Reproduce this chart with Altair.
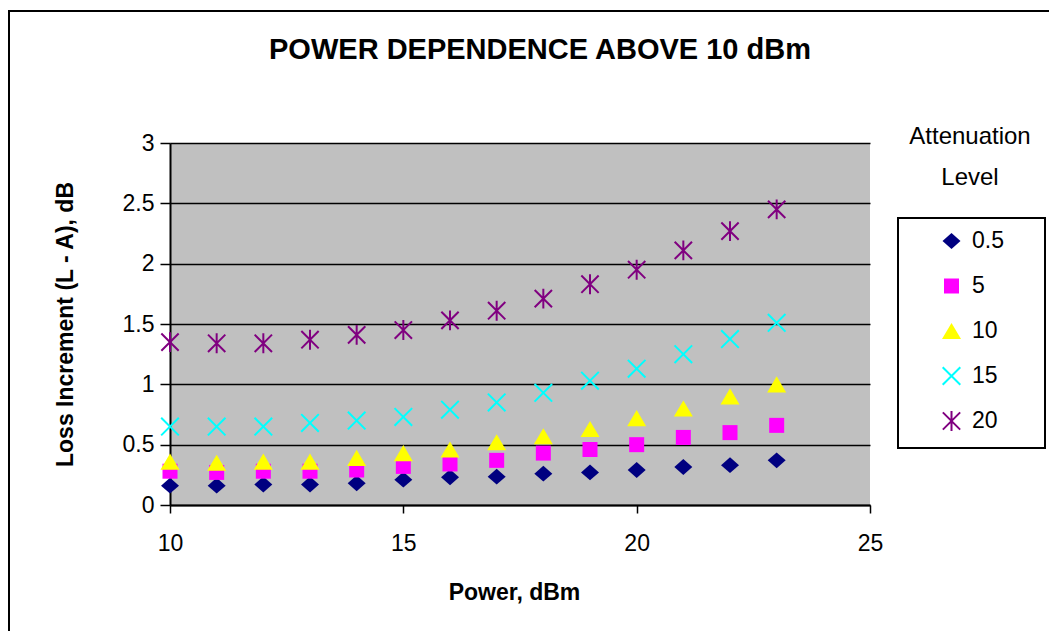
import altair as alt
import pandas as pd

power = list(range(10, 24))
att_levels = ["0.5", "5", "10", "15", "20"]
loss_05 = [0.16, 0.16, 0.17, 0.17, 0.18, 0.21, 0.23, 0.235, 0.26, 0.27, 0.29, 0.315, 0.33, 0.37]
loss_5 = [0.28, 0.27, 0.28, 0.28, 0.29, 0.32, 0.34, 0.37, 0.43, 0.46, 0.50, 0.56, 0.60, 0.66]
loss_10 = [0.36, 0.35, 0.36, 0.36, 0.39, 0.43, 0.46, 0.52, 0.57, 0.63, 0.72, 0.80, 0.90, 1.00]
loss_15 = [0.65, 0.65, 0.65, 0.68, 0.70, 0.73, 0.79, 0.85, 0.93, 1.03, 1.13, 1.25, 1.375, 1.51]
loss_20 = [1.35, 1.34, 1.34, 1.37, 1.41, 1.45, 1.53, 1.61, 1.71, 1.83, 1.95, 2.11, 2.27, 2.45]

x_ticks = [10, 15, 20, 25]
y_ticks = [0, 0.5, 1, 1.5, 2, 2.5, 3]

rows = []
for lvl, vals in zip(att_levels, [loss_05, loss_5, loss_10, loss_15, loss_20]):
    for p, v in zip(power, vals):
        rows.append({"Power": p, "Loss": v, "Level": lvl})
df = pd.DataFrame(rows)

FONT = "Liberation Sans"
W, H = 700, 362

shapes = ["M0,-0.88L1,0L0,0.88L-1,0Z",
          "M-1,-1L1,-1L1,1L-1,1Z",
          "M0,-0.85L1,0.85L-1,0.85Z",
          "M-1,-1L1,1M-1,1L1,-1",
          "M-1,-1L1,1M-1,1L1,-1M0,-1.15L0,1.15"]
fills = ["#000080", "#FF00FF", "#FFFF00", "transparent", "transparent"]
strokes = ["transparent", "transparent", "transparent", "#00FFFF", "#800080"]
sizes = [324, 225, 361, 310, 300]

points = alt.Chart(df).mark_point(filled=True, opacity=1, strokeWidth=2).encode(
    x=alt.X("Power:Q",
            scale=alt.Scale(domain=[10, 25], nice=False, zero=False),
            axis=alt.Axis(values=x_ticks, title="Power, dBm", grid=False,
                          labelFlush=False,
                          titleX=344, titleY=87, titleBaseline="middle",
                          titleAlign="center",
                          tickSize=8, labelPadding=19)),
    y=alt.Y("Loss:Q",
            scale=alt.Scale(domain=[0, 3], nice=False),
            axis=alt.Axis(values=y_ticks, title="Loss Increment (L - A), dB",
                          grid=True, format="~g", labelFlush=False,
                          titleX=-105, titleY=H / 2,
                          titleAngle=-90, titleBaseline="middle",
                          titleAlign="center",
                          tickSize=10, labelPadding=6)),
    shape=alt.Shape("Level:N", sort=att_levels, title=None,
                    scale=alt.Scale(domain=att_levels, range=shapes)),
    fill=alt.Fill("Level:N", sort=att_levels, title=None,
                  scale=alt.Scale(domain=att_levels, range=fills)),
    stroke=alt.Stroke("Level:N", sort=att_levels, title=None,
                      scale=alt.Scale(domain=att_levels, range=strokes)),
    size=alt.Size("Level:N", sort=att_levels, title=None,
                  scale=alt.Scale(type="ordinal", domain=att_levels, range=sizes)),
    order=alt.Order("order_idx:Q"),
).transform_calculate(
    order_idx="indexof(['0.5','5','10','15','20'], datum.Level)"
)

one = pd.DataFrame({"k": [0]})

def label(text, x, y, size, weight="normal"):
    return alt.Chart(one).mark_text(
        font=FONT, fontSize=size, fontWeight=weight, color="black",
        align="center", baseline="middle"
    ).encode(x=alt.value(x), y=alt.value(y), text=alt.value(text))

title = label("POWER DEPENDENCE ABOVE 10 dBm", 370, -93, 29, "bold")
leg_t1 = label("Attenuation", 800, -6, 24)
leg_t2 = label("Level", 800, 35, 24)

leg_box = alt.Chart(one).mark_rect(
    fill="transparent", stroke="black", strokeWidth=2
).encode(x=alt.value(728), x2=alt.value(875), y=alt.value(75), y2=alt.value(305))

frame = alt.Chart(one).mark_rect(
    fill="transparent", stroke="black", strokeWidth=2
).encode(x=alt.value(-161), x2=alt.value(1000), y=alt.value(-132), y2=alt.value(600))

chart = alt.layer(frame, leg_box, points, title, leg_t1, leg_t2).properties(
    width=W, height=H,
    autosize=alt.AutoSizeParams(type="none"),
    padding={"left": 162, "top": 135, "right": 179, "bottom": 126},
).configure_view(
    fill="#C0C0C0", stroke=None
).configure_axis(
    labelFont=FONT, labelFontSize=23, labelColor="black",
    titleFont=FONT, titleFontSize=23, titleFontWeight="bold", titleColor="black",
    domainColor="black", domainWidth=2, tickColor="black", tickWidth=1.5,
    gridColor="black", gridWidth=1.5, gridOpacity=1,
).configure_legend(
    orient="none", legendX=770, legendY=86, padding=0,
    labelFont=FONT, labelFontSize=23, labelColor="black", labelOffset=9,
    clipHeight=24, rowPadding=21, symbolStrokeWidth=2,
)

chart.save("out.html", embed_options={"renderer": "svg", "actions": False})
